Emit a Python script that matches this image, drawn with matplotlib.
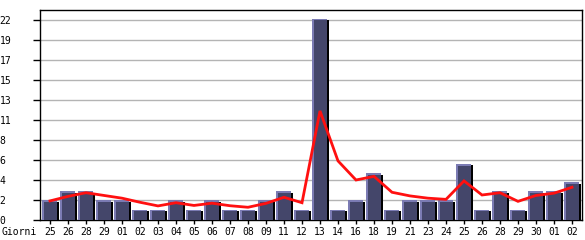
import matplotlib
matplotlib.use("Agg")
import matplotlib.pyplot as plt
import numpy as np

days = ["25", "26", "28", "29", "01", "02", "03", "04", "05", "06",
        "07", "08", "09", "11", "12", "13", "14", "16", "18", "19",
        "21", "23", "24", "25", "26", "28", "29", "30", "01", "02"]
counts = [2, 3, 3, 2, 2, 1, 1, 2, 1, 2,
          1, 1, 2, 3, 1, 22, 1, 2, 5, 1,
          2, 2, 2, 6, 1, 3, 1, 3, 3, 4]
trend = [2.1, 2.6, 3.0, 2.7, 2.4, 1.95, 1.55, 1.9, 1.6, 1.85,
         1.57, 1.4, 1.83, 2.5, 1.9, 12.0, 6.5, 4.4, 4.8, 3.05,
         2.65, 2.4, 2.27, 4.3, 2.75, 3.0, 2.05, 2.7, 2.95, 3.6]
y_max = 22
grid_steps = 10
x_label = "Giorni"

mono = "DejaVu Sans Mono"
fig = plt.figure(figsize=(5.85, 2.4), dpi=100)
ax = fig.add_axes([40 / 585, 20 / 240, 542 / 585, 210 / 240])

x = np.arange(len(days))
values = np.array(counts, dtype=float)

grid_vals = [y_max * k / grid_steps for k in range(grid_steps + 1)]
for g in grid_vals[1:]:
    ax.axhline(g, color="#b4b4b4", lw=1.0, zorder=0)

# 3d-ish bars: black shadow at right, dark body, light left/top edge
ax.bar(x + 0.45, values, width=0.08, color="black", zorder=2)
ax.bar(x - 0.01, values + 0.12, width=0.84, color="#44466a", zorder=3)
ax.bar(x - 0.38, values + 0.12, width=0.09, color="#7b7bb3", zorder=4)
ax.bar(x - 0.01, 0.2, bottom=values - 0.05, width=0.84,
       color="#7b7bb3", zorder=4)

ax.plot(x, trend, color="#ff1010", lw=2.0, zorder=5,
        solid_joinstyle="miter")

ax.set_xlim(-0.555, len(days) - 0.445)
ax.set_ylim(0, y_max * 210 / 200)

ax.set_yticks(grid_vals)
ax.set_yticklabels([str(int(v + 1e-9)) for v in grid_vals])
ax.set_xticks(x)
ax.set_xticklabels(days)
ax.tick_params(axis="y", length=5, width=1, pad=24, labelsize=7)
ax.tick_params(axis="x", length=3, width=1, pad=2, labelsize=7)
for lab in ax.get_yticklabels():
    lab.set_horizontalalignment("left")
    lab.set_fontfamily(mono)
for lab in ax.get_xticklabels():
    lab.set_fontfamily(mono)

for side in ["left", "right", "top", "bottom"]:
    ax.spines[side].set_color("black")
    ax.spines[side].set_linewidth(1.0)

fig.text(2 / 585, 1 - 232 / 240, x_label, fontsize=7, family=mono,
         ha="left", va="center")

fig.savefig("out.png", dpi=100)
